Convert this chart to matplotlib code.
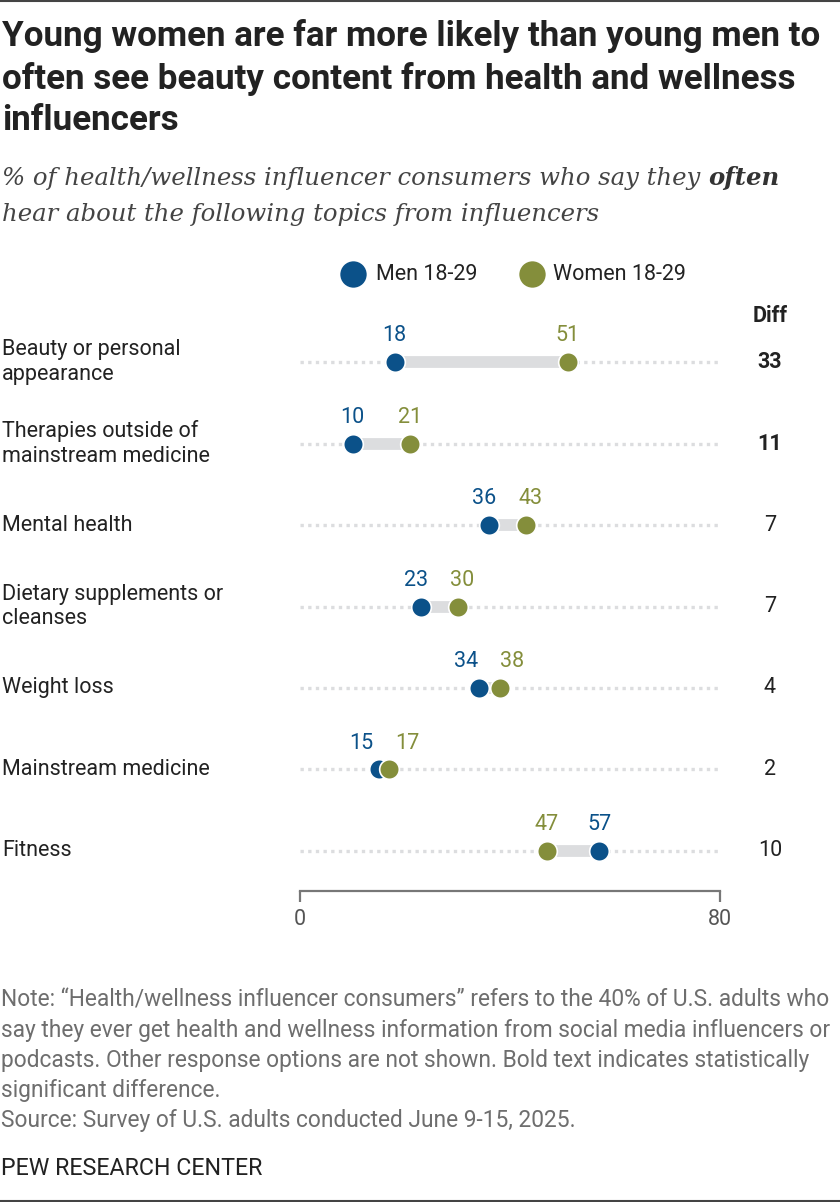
import matplotlib
matplotlib.use("Agg")
import matplotlib.pyplot as plt
from matplotlib import transforms
from matplotlib.lines import Line2D

topics = ["Beauty or personal\nappearance",
          "Therapies outside of\nmainstream medicine",
          "Mental health",
          "Dietary supplements or\ncleanses",
          "Weight loss",
          "Mainstream medicine",
          "Fitness"]
men = [18, 10, 36, 23, 34, 15, 57]
women = [51, 21, 43, 30, 38, 17, 47]
diff = [33, 11, 7, 7, 4, 2, 10]
significant = [True, True, False, False, False, False, False]

title_lines = ["Young women are far more likely than young men to",
               "often see beauty content from health and wellness",
               "influencers"]
note_lines = ["Note: \u201cHealth/wellness influencer consumers\u201d refers to the 40% of U.S. adults who",
              "say they ever get health and wellness information from social media influencers or",
              "podcasts. Other response options are not shown. Bold text indicates statistically",
              "significant difference.",
              "Source: Survey of U.S. adults conducted June 9-15, 2025."]

BLUE = "#0b5189"
OLIVE = "#848e3b"
GRAY_BAR = "#dcdddf"
DARK = "#222222"
SANS = ["Roboto", "DejaVu Sans"]
SERIF = ["DejaVu Serif"]
FS = 15.5

W, H = 840, 1202
fig = plt.figure(figsize=(W / 100, H / 100), dpi=100)
renderer = fig.canvas.get_renderer()

def fx(px):
    return px / W

def fy(px):
    return 1 - px / H

def width_px(t):
    return t.get_window_extent(renderer=renderer).width

def fit(t, target):
    # scale font so the text spans the same width as in the reference
    t.set_fontsize(t.get_fontsize() * target / width_px(t))
    return t.get_fontsize()

# border lines top and bottom
fig.add_artist(Line2D([0, 1], [fy(1), fy(1)], color="#444444", lw=1.5))
fig.add_artist(Line2D([0, 1], [fy(1201), fy(1201)], color="#444444", lw=1.5))

# title
t0 = fig.text(fx(2), fy(46), title_lines[0], family=SANS, weight="bold",
              fontsize=20, color=DARK, va="baseline")
tsize = fit(t0, 816)
for line, base in zip(title_lines[1:], [89, 130]):
    fig.text(fx(2), fy(base), line, family=SANS, weight="bold", fontsize=tsize,
             color=DARK, va="baseline")

# subtitle with bold "often"
s2 = fig.text(fx(2), fy(221), "hear about the following topics from influencers",
              family=SERIF, style="italic", fontsize=16, color="#444444", va="baseline")
ssize = fit(s2, 600)
s1 = fig.text(fx(2), fy(185), "% of health/wellness influencer consumers who say they ",
              family=SERIF, style="italic", fontsize=ssize, color="#444444", va="baseline")
x_end = s1.get_window_extent(renderer=renderer).x1
fig.text(x_end / W, fy(185), "often", family=SERIF, style="italic", weight="bold",
         fontsize=ssize, color="#333333", va="baseline")

# main chart
ax = fig.add_axes([fx(300), (H - 891) / H, fx(720) - fx(300), (891 - 300) / H])
ax.set_xlim(0, 80)
ax.set_ylim(6.491, -0.761)
for s in ["top", "left", "right"]:
    ax.spines[s].set_visible(False)
ax.spines["bottom"].set_color("#777777")
ax.spines["bottom"].set_linewidth(1.6)
ax.set_yticks([])
ax.set_xticks([0, 80])
ax.tick_params(axis="x", direction="out", length=8, width=1.6, color="#777777",
               labelsize=FS, labelcolor="#555555", pad=5)
for lab in ax.get_xticklabels():
    lab.set_family(SANS)

px_per_unit = 420 / 80
rows = list(range(len(topics)))
for i in rows:
    ax.plot([0, 80], [i, i], color=GRAY_BAR, lw=2.4, linestyle=(0, (1, 1.3)),
            zorder=1, dash_capstyle="butt")
    ax.plot([men[i], women[i]], [i, i], color=GRAY_BAR, lw=8.5, zorder=2,
            solid_capstyle="butt")

ax.scatter(men, rows, s=200, color=BLUE, edgecolor="white", linewidth=1.2, zorder=3,
           clip_on=False)
ax.scatter(women, rows, s=200, color=OLIVE, edgecolor="white", linewidth=1.2, zorder=4,
           clip_on=False)

# value labels, nudged apart when close
min_gap = 46
for i in rows:
    m, w = men[i], women[i]
    dx_m, dx_w = 0, 0
    gap = abs(w - m) * px_per_unit
    if gap < min_gap:
        shift = (min_gap - gap) / 2
        if m <= w:
            dx_m, dx_w = -shift, shift
        else:
            dx_m, dx_w = shift, -shift
    ax.annotate(str(m), (m, i), xytext=(dx_m * 0.72, 19), textcoords="offset points",
                ha="center", va="center", fontsize=FS, color=BLUE, family=SANS)
    ax.annotate(str(w), (w, i), xytext=(dx_w * 0.72, 19), textcoords="offset points",
                ha="center", va="center", fontsize=FS, color=OLIVE, family=SANS)

# category labels and diff column
tr = transforms.blended_transform_factory(fig.transFigure, ax.transData)
for i in rows:
    ax.text(fx(2), i, topics[i], transform=tr, ha="left", va="center",
            fontsize=FS, color=DARK, family=SANS, linespacing=1.2)
    ax.text(fx(770), i, str(diff[i]), transform=tr, ha="center", va="center",
            fontsize=FS, color=DARK, family=SANS,
            weight="bold" if significant[i] else "normal")
fig.text(fx(770), fy(316), "Diff", ha="center", va="center", fontsize=FS,
         weight="bold", color=DARK, family=SANS)

# legend
ax_leg = fig.add_axes([0, 0, 1, 1], facecolor="none")
ax_leg.set_axis_off()
ax_leg.set_xlim(0, W)
ax_leg.set_ylim(H, 0)
ax_leg.scatter([353], [274], s=360, color=BLUE, linewidth=0)
ax_leg.scatter([532], [274], s=360, color=OLIVE, linewidth=0)
ax_leg.text(376, 274, "Men 18-29", ha="left", va="center", fontsize=FS,
            color=DARK, family=SANS)
ax_leg.text(553, 274, "Women 18-29", ha="left", va="center", fontsize=FS,
            color=DARK, family=SANS)

# note and source
note_texts = []
for k, line in enumerate(note_lines):
    note_texts.append(fig.text(fx(1), fy(1007 + 30 * k), line, ha="left",
                               va="baseline", fontsize=13, color="#6e6e6e", family=SANS))
widest = max(width_px(t) for t in note_texts)
for t in note_texts:
    t.set_fontsize(13 * 832 / widest)
pew = fig.text(fx(1), fy(1175), "PEW RESEARCH CENTER", ha="left", va="baseline",
               fontsize=14, color=DARK, family=SANS)
fit(pew, 262)

fig.savefig("out.png", dpi=100)
